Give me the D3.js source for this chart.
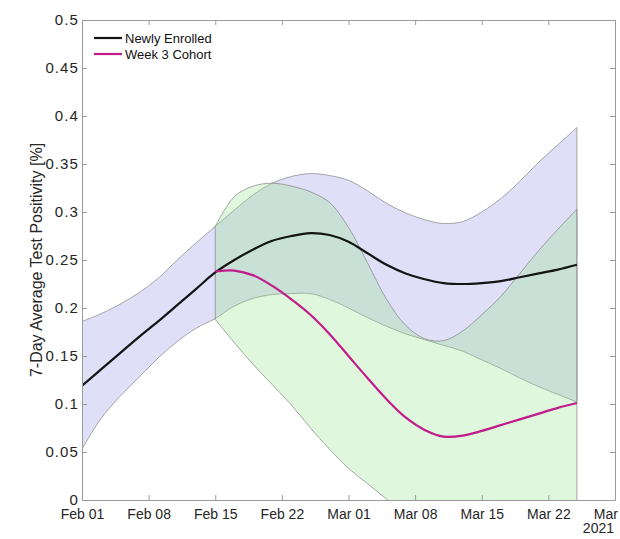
<!DOCTYPE html>
<html>
<head>
<meta charset="utf-8">
<script src="https://cdn.jsdelivr.net/npm/d3@7"></script>
<style>
  html, body { margin: 0; padding: 0; background: #fff; }
  svg { display: block; font-family: "Liberation Sans", Arial, Helvetica, sans-serif; }
</style>
</head>
<body>
<svg id="chart" width="620" height="539"></svg>
<script>
// ---------- data ----------
const startDate = "2021-02-01";
// day offsets from Feb 01 2021
const neDays   = [0,2,4,6,8,10,12,14,16,18,20,22,24,26,28,30,32,34,36,38,40,42,44,46,48,50,52];
const neMean   = [0.119,0.136,0.153,0.170,0.186,0.203,0.220,0.237,0.250,0.261,0.270,0.275,0.278,0.276,0.269,0.257,0.245,0.236,0.230,0.226,0.225,0.226,0.228,0.232,0.236,0.240,0.245];
const neUpper  = [0.186,0.194,0.204,0.216,0.231,0.250,0.268,0.285,0.302,0.318,0.330,0.337,0.340,0.338,0.333,0.322,0.309,0.299,0.292,0.288,0.290,0.300,0.314,0.332,0.352,0.370,0.388];
const neLower  = [0.053,0.085,0.108,0.128,0.148,0.165,0.179,0.189,0.202,0.210,0.214,0.215,0.215,0.209,0.200,0.190,0.181,0.173,0.167,0.161,0.155,0.146,0.137,0.127,0.118,0.110,0.102];

const w3Days   = [14,16,18,20,22,24,26,28,30,32,34,36,38,40,42,44,46,48,50,52];
const w3Mean   = [0.238,0.239,0.234,0.223,0.209,0.193,0.173,0.150,0.127,0.105,0.086,0.073,0.066,0.067,0.072,0.078,0.084,0.090,0.096,0.101];
const w3Upper  = [0.285,0.316,0.327,0.330,0.327,0.321,0.310,0.284,0.247,0.209,0.182,0.168,0.166,0.176,0.193,0.212,0.236,0.260,0.282,0.303];
const w3Lower  = [0.188,0.164,0.141,0.120,0.099,0.075,0.053,0.033,0.017,0.001,-0.012,-0.022,-0.030,-0.035,-0.038,-0.040,-0.040,-0.038,-0.035,-0.030];

const xTickDays   = [0,7,14,21,28,35,42,49,56];
const xTickLabels = ["Feb 01","Feb 08","Feb 15","Feb 22","Mar 01","Mar 08","Mar 15","Mar 22","Mar 29"];
const yTicks      = [0,0.05,0.1,0.15,0.2,0.25,0.3,0.35,0.4,0.45,0.5];
const yTickLabels = ["0","0.05","0.1","0.15","0.2","0.25","0.3","0.35","0.4","0.45","0.5"];
const seriesNames = ["Newly Enrolled","Week 3 Cohort"];
const yearLabel   = "2021";
const yTitle      = "7-Day Average Test Positivity [%]";

// ---------- helpers ----------
const t0 = new Date(startDate + "T00:00:00");
const dayToDate = d => d3.timeDay.offset(t0, d);

const svg = d3.select("#chart");
const L = 82, R = 615, T = 20, B = 500;

const x = d3.scaleTime().domain([dayToDate(0), dayToDate(56)]).range([L, R]);
const y = d3.scaleLinear().domain([0, 0.5]).range([B, T]);

const colors = {
  neFill: "rgba(40,40,200,0.15)",
  w3Fill: "rgba(150,228,140,0.30)",
  edge: "#7f7f7f",
  ne: "#141414",
  w3: "#c21b8c",
  axis: "#9a9a9a",
  text: "#262626"
};

svg.append("defs").append("clipPath").attr("id", "plotclip")
  .append("rect").attr("x", L).attr("y", T).attr("width", R - L).attr("height", B - T);

const plot = svg.append("g").attr("clip-path", "url(#plotclip)");

function bandData(days, lo, hi) {
  return days.map((d, i) => ({ date: dayToDate(d), lo: lo[i], hi: hi[i] }));
}
const curve = d3.curveCatmullRom.alpha(0.5);
const area = d3.area().x(d => x(d.date)).y0(d => y(d.lo)).y1(d => y(d.hi)).curve(curve);

function drawBand(days, lo, hi, fill) {
  const data = bandData(days, lo, hi);
  plot.append("path").datum(data).attr("d", area).attr("fill", fill).attr("stroke", "none");
  const upper = d3.line().x(d => x(d.date)).y(d => y(d.hi)).curve(curve);
  const lower = d3.line().x(d => x(d.date)).y(d => y(d.lo)).curve(curve);
  const edge = g => g.attr("fill", "none").attr("stroke", colors.edge).attr("stroke-width", 0.8).attr("stroke-opacity", 0.85);
  plot.append("path").datum(data).attr("d", upper).call(edge);
  plot.append("path").datum(data).attr("d", lower).call(edge);
  [data[0], data[data.length - 1]].forEach(d => {
    plot.append("line").attr("x1", x(d.date)).attr("x2", x(d.date))
      .attr("y1", y(d.lo)).attr("y2", y(d.hi)).call(edge);
  });
}

drawBand(neDays, neLower, neUpper, colors.neFill);
drawBand(w3Days, w3Lower, w3Upper, colors.w3Fill);

const meanLine = d3.line().x(d => x(d.date)).y(d => y(d.v)).curve(curve);
plot.append("path")
  .datum(neDays.map((d, i) => ({ date: dayToDate(d), v: neMean[i] })))
  .attr("d", meanLine).attr("fill", "none").attr("stroke", colors.ne).attr("stroke-width", 2.2);
plot.append("path")
  .datum(w3Days.map((d, i) => ({ date: dayToDate(d), v: w3Mean[i] })))
  .attr("d", meanLine).attr("fill", "none").attr("stroke", colors.w3).attr("stroke-width", 2.2);

// ---------- axes ----------
const xTickDates = xTickDays.map(dayToDate);
const fmtX = d => xTickLabels[xTickDates.findIndex(t => +t === +d)];
const fmtY = v => yTickLabels[yTicks.indexOf(v)];

function styleAxis(g) {
  g.attr("font-family", null);
  g.selectAll(".domain").attr("stroke", colors.axis);
  g.selectAll(".tick line").attr("stroke", colors.axis);
  g.selectAll(".tick text").attr("fill", colors.text).style("font-size", "14px");
}

svg.append("g").attr("transform", `translate(0,${B})`)
  .call(d3.axisBottom(x).tickValues(xTickDates).tickFormat(fmtX).tickSize(-5).tickSizeOuter(0).tickPadding(9))
  .call(styleAxis);

svg.append("g").attr("transform", `translate(0,${T})`)
  .call(d3.axisTop(x).tickValues(xTickDates).tickFormat("").tickSize(-5).tickSizeOuter(0))
  .call(styleAxis);

svg.append("g").attr("transform", `translate(${L},0)`)
  .call(d3.axisLeft(y).tickValues(yTicks).tickFormat(fmtY).tickSize(-5).tickSizeOuter(0).tickPadding(3))
  .call(styleAxis)
  .call(g => g.selectAll(".tick text").style("font-size", "15px").style("letter-spacing", "1.1px"));

svg.append("g").attr("transform", `translate(${R},0)`)
  .call(d3.axisRight(y).tickValues(yTicks).tickFormat("").tickSize(-5).tickSizeOuter(0))
  .call(styleAxis);

svg.append("text").attr("x", R - 1).attr("y", 533).attr("text-anchor", "end")
  .attr("fill", colors.text).style("font-size", "14px").text(yearLabel);

svg.append("text")
  .attr("transform", `translate(42,${(T + B) / 2}) rotate(-90)`)
  .attr("text-anchor", "middle").attr("fill", colors.text).style("font-size", "16px")
  .text(yTitle);

// ---------- legend ----------
const legend = svg.append("g");
[colors.ne, colors.w3].forEach((c, i) => {
  const yy = 38 + i * 16;
  legend.append("line").attr("x1", 94).attr("x2", 122).attr("y1", yy).attr("y2", yy)
    .attr("stroke", c).attr("stroke-width", 2.2);
  legend.append("text").attr("x", 125).attr("y", yy).attr("dy", "0.35em")
    .attr("fill", "#111").style("font-size", "13px").text(seriesNames[i]);
});
</script>
</body>
</html>
